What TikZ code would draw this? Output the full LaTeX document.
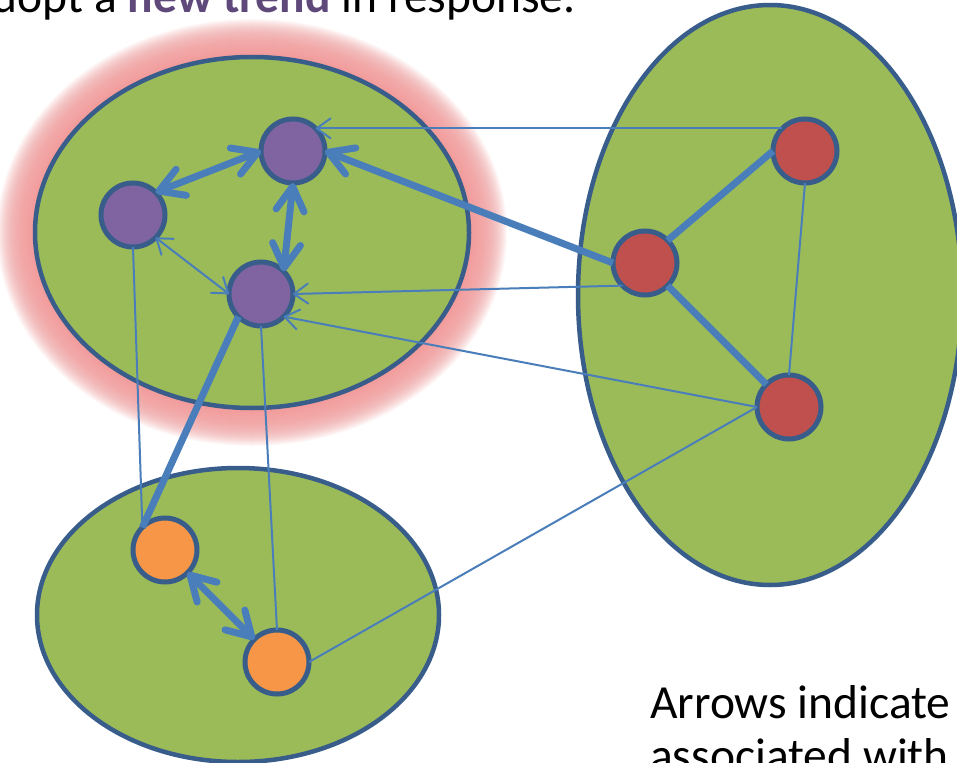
\documentclass[tikz,border=0pt]{standalone}
\usepackage{fontspec}
\setmainfont{Carlito}
\usetikzlibrary{arrows.meta}
\definecolor{grn}{HTML}{9BBB59}
\definecolor{bord}{HTML}{385D8A}
\definecolor{conn}{HTML}{4A7EBB}
\definecolor{purp}{HTML}{8064A2}
\definecolor{redn}{HTML}{C0504D}
\definecolor{oran}{HTML}{F79646}
\definecolor{glowc}{HTML}{F29C9C}
\definecolor{trend}{HTML}{5F497A}
\tikzset{
  bigtip/.tip={Straight Barb[length=24pt,width=28pt,line cap=round,line join=round]},
  thintip/.tip={Straight Barb[length=14pt,width=20pt,line cap=round,line join=round]},
}
\begin{document}
\begin{tikzpicture}[x=1pt,y=-1pt,
  grp/.style={fill=grn, draw=bord, line width=4.5pt},
  agent/.style={circle, draw=bord, line width=5pt, minimum size=64pt, inner sep=0pt, outer sep=0pt},
  strong/.style={draw=conn, line width=7pt},
  weak/.style={draw=conn, line width=2pt},
  txt/.style={anchor=base west, inner sep=0pt, font=\fontsize{47.5}{57}\selectfont}]
\useasboundingbox (0,0) rectangle (957,762);
\clip (0,0) rectangle (957,762);
\fill[white] (0,0) rectangle (957,762);
% glow
\foreach \i in {38,37,...,1}{
  \fill[glowc, opacity=0.07] (252,232.5) ellipse [x radius={(217+\i)*1pt}, y radius={(175.5+\i)*1pt}];
}
% groups
\path[grp] (252,232.5) ellipse [x radius=217pt, y radius=175.5pt];
\path[grp] (770,295) ellipse [x radius=192pt, y radius=290pt];
\path[grp] (238,615) ellipse [x radius=201pt, y radius=147pt];
% agents
\node[agent, fill=purp] (p1) at (293,151) {};
\node[agent, fill=purp] (p2) at (133,215) {};
\node[agent, fill=purp] (p3) at (261,294) {};
\node[agent, fill=redn] (r1) at (805,151) {};
\node[agent, fill=redn] (r2) at (645,263) {};
\node[agent, fill=redn] (r3) at (789,407) {};
\node[agent, fill=oran] (o1) at (165,550) {};
\node[agent, fill=oran] (o2) at (277,662) {};
% connectors
\draw[weak, -{thintip}] (r1.north west) -- (p1.north east);
\draw[strong, -{bigtip}] (r2.west) -- (p1.east);
\draw[strong] (r2.north east) -- (r1.west);
\draw[strong] (r2.south east) -- (r3.north west);
\draw[weak] (r1.south) -- (r3.north);
\draw[weak, -{thintip}] (r2.south west) -- (p3.east);
\draw[weak, -{thintip}] (r3.west) -- (p3.south east);
\draw[weak] (r3.west) -- (o2.east);
\draw[strong, {bigtip}-{bigtip}] (p2.north east) -- (p1.west);
\draw[strong, {bigtip}-{bigtip}] (p1.south) -- (p3.north east);
\draw[weak, {thintip}-{thintip}] (p2.south east) -- (p3.west);
\draw[weak] (p2.south) -- (o1.north west);
\draw[strong] (p3.south west) -- (o1.north west);
\draw[weak] (p3.south) -- (o2.north);
\draw[strong, {bigtip}-{bigtip}] (o1.south east) -- (o2.north west);
% texts
\node[txt] (toptext) at (-30,13) {adopt a \textcolor{trend}{\textbf{new trend}} in response.};
\node[txt] (note1) at (650,718) {Arrows indicate};
\node[txt] (note2) at (650,771) {associated with};
\end{tikzpicture}
\end{document}
